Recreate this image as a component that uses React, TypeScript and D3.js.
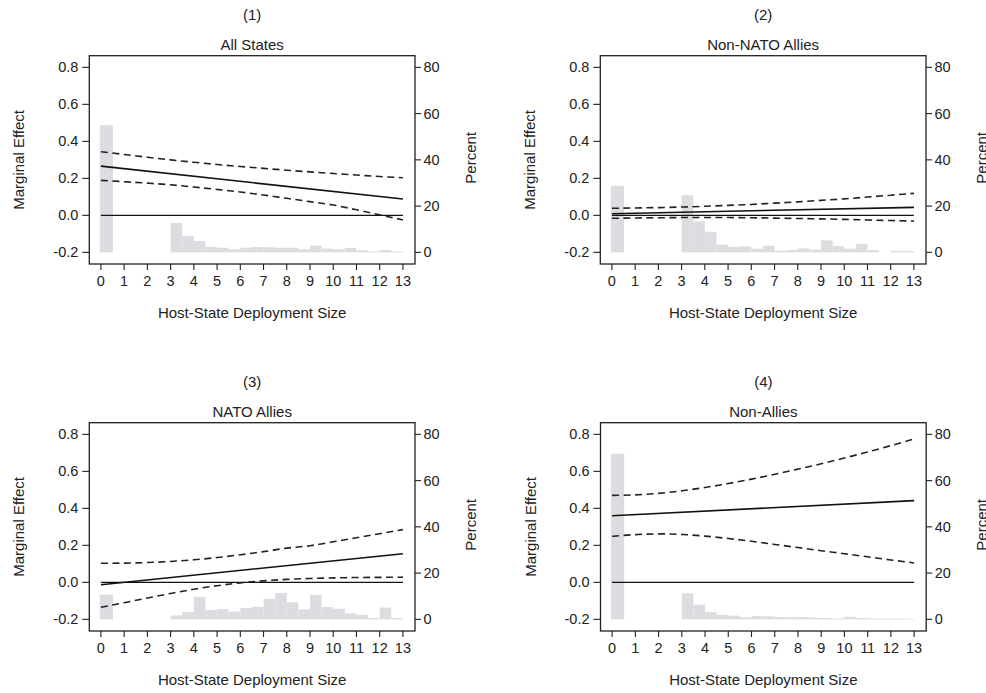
import React from "react";
import * as d3 from "d3";

// ---------- data ----------
const panelNumbers = ["(1)", "(2)", "(3)", "(4)"];
const panelTitles = ["All States", "Non-NATO Allies", "NATO Allies", "Non-Allies"];

const xTicks = [0, 1, 2, 3, 4, 5, 6, 7, 8, 9, 10, 11, 12, 13];
const leftTicks = [-0.2, 0.0, 0.2, 0.4, 0.6, 0.8];
const rightTicks = [0, 20, 40, 60, 80];

// histogram bins (deployment size)
const binStart = [-0.05, 3, 3.5, 4, 4.5, 5, 5.5, 6, 6.5, 7, 7.5, 8, 8.5, 9, 9.5, 10, 10.5, 11, 11.5, 12, 12.5];
const binEnd = [0.52, 3.5, 4, 4.5, 5, 5.5, 6, 6.5, 7, 7.5, 8, 8.5, 9, 9.5, 10, 10.5, 11, 11.5, 12, 12.5, 13];

// histogram percents per panel
const hist1 = [55.0, 12.7, 7.0, 4.9, 2.4, 2.0, 1.3, 2.0, 2.3, 2.2, 2.0, 2.0, 1.3, 2.9, 1.6, 1.3, 1.9, 0.9, 0.4, 1.0, 0.4];
const hist2 = [28.8, 24.7, 13.4, 8.9, 3.3, 2.4, 2.6, 1.6, 2.9, 0.7, 1.0, 1.7, 1.2, 5.2, 2.7, 1.6, 3.7, 1.0, 0, 0.6, 0.6];
const hist3 = [10.7, 1.7, 3.1, 9.7, 4.0, 4.4, 3.4, 4.9, 5.4, 8.9, 11.4, 7.4, 4.3, 10.6, 5.3, 4.6, 2.6, 2.0, 0.6, 5.1, 0.6];
const hist4 = [71.6, 11.3, 6.3, 3.1, 2.0, 1.6, 0.9, 1.4, 1.3, 1.0, 0.9, 1.0, 0.7, 0.6, 0.4, 1.1, 0.6, 0.4, 0.4, 0.4, 0.3];

// marginal effect estimate (straight lines, endpoints at x = 0 and 13)
const estX = [0, 13];
const est1 = [0.266, 0.088];
const est2 = [0.009, 0.043];
const est3 = [-0.013, 0.155];
const est4 = [0.360, 0.442];

// 95% confidence bounds at x = 0..13
const upper1 = [0.344, 0.329, 0.314, 0.300, 0.287, 0.275, 0.264, 0.254, 0.244, 0.235, 0.226, 0.218, 0.210, 0.203];
const lower1 = [0.189, 0.182, 0.174, 0.165, 0.153, 0.140, 0.126, 0.110, 0.092, 0.074, 0.056, 0.030, 0.003, -0.025];
const upper2 = [0.038, 0.040, 0.042, 0.045, 0.049, 0.054, 0.059, 0.066, 0.073, 0.081, 0.089, 0.099, 0.109, 0.119];
const lower2 = [-0.016, -0.014, -0.013, -0.012, -0.012, -0.012, -0.013, -0.015, -0.017, -0.019, -0.022, -0.025, -0.028, -0.031];
const upper3 = [0.103, 0.104, 0.107, 0.113, 0.122, 0.134, 0.149, 0.166, 0.185, 0.198, 0.219, 0.241, 0.263, 0.285];
const lower3 = [-0.135, -0.110, -0.085, -0.060, -0.037, -0.018, -0.003, 0.008, 0.016, 0.021, 0.024, 0.026, 0.027, 0.028];
const upper4 = [0.470, 0.473, 0.481, 0.495, 0.513, 0.534, 0.558, 0.584, 0.612, 0.641, 0.672, 0.705, 0.739, 0.775];
const lower4 = [0.249, 0.258, 0.262, 0.259, 0.250, 0.237, 0.222, 0.205, 0.188, 0.171, 0.155, 0.138, 0.121, 0.105];

const hists = [hist1, hist2, hist3, hist4];
const ests = [est1, est2, est3, est4];
const uppers = [upper1, upper2, upper3, upper4];
const lowers = [lower1, lower2, lower3, lower4];

// ---------- layout ----------
const W = 986;
const H = 693;
const frameW = 325.7;
const frameH = 208.3;
const originsX = [89.3, 600.3, 89.3, 600.5];
const originsY = [55.7, 55.7, 422.7, 422.7];
const FONT = "'Liberation Sans', Arial, Helvetica, sans-serif";
const TXT = "#222";
const BAR = "#dcdde0";

function Panel({ i }: { i: number }) {
  const ox = originsX[i];
  const oy = originsY[i];
  const x = d3.scaleLinear().domain([-0.5, 13.52]).range([0, frameW]);
  const y = d3.scaleLinear().domain([-0.263, 0.863]).range([frameH, 0]);
  const yPct = d3.scaleLinear().domain([0, 80]).range([y(-0.2), y(0.8)]);

  const line = d3
    .line<number>()
    .x((_, k) => x(xTicks[k]))
    .y((d) => y(d))
    .curve(d3.curveMonotoneX);
  const estLine = d3
    .line<number>()
    .x((_, k) => x(estX[k]))
    .y((d) => y(d));

  const hist = hists[i];
  const cx = frameW / 2;
  const cy = frameH / 2;

  return (
    <g transform={`translate(${ox},${oy})`} fontFamily={FONT} fill={TXT}>
      <text x={cx} y={-36} textAnchor="middle" fontSize={15}>
        {panelNumbers[i]}
      </text>
      <text x={cx} y={-6} textAnchor="middle" fontSize={15}>
        {panelTitles[i]}
      </text>

      {/* histogram */}
      {hist.map((v, k) => (
        <rect
          key={k}
          x={x(binStart[k])}
          width={x(binEnd[k]) - x(binStart[k])}
          y={yPct(v)}
          height={yPct(0) - yPct(v)}
          fill={BAR}
          stroke="none"
        />
      ))}

      {/* zero reference line */}
      <line x1={x(0)} x2={x(13)} y1={y(0)} y2={y(0)} stroke="#111" strokeWidth={1.2} />

      {/* CI bounds */}
      <path d={line(uppers[i]) || ""} fill="none" stroke="#222" strokeWidth={1.6} strokeDasharray="7,4.5" />
      <path d={line(lowers[i]) || ""} fill="none" stroke="#222" strokeWidth={1.6} strokeDasharray="7,4.5" />
      {/* estimate */}
      <path d={estLine(ests[i]) || ""} fill="none" stroke="#111" strokeWidth={1.6} />

      {/* frame */}
      <rect x={0} y={0} width={frameW} height={frameH} fill="none" stroke="#222" strokeWidth={1.3} />

      {/* left axis */}
      {leftTicks.map((t) => (
        <g key={"l" + t}>
          <line x1={-7} x2={0} y1={y(t)} y2={y(t)} stroke="#222" strokeWidth={1.1} />
          <text x={-11} y={y(t)} dy="0.35em" textAnchor="end" fontSize={14.5}>
            {t.toFixed(1)}
          </text>
        </g>
      ))}
      {/* right axis */}
      {rightTicks.map((t) => (
        <g key={"r" + t}>
          <line x1={frameW} x2={frameW + 6} y1={yPct(t)} y2={yPct(t)} stroke="#222" strokeWidth={1.1} />
          <text x={frameW + 8.5} y={yPct(t)} dy="0.35em" textAnchor="start" fontSize={14.5}>
            {t}
          </text>
        </g>
      ))}
      {/* bottom axis */}
      {xTicks.map((t) => (
        <g key={"b" + t}>
          <line x1={x(t)} x2={x(t)} y1={frameH} y2={frameH + 6} stroke="#222" strokeWidth={1.1} />
          <text x={x(t)} y={frameH + 22.5} textAnchor="middle" fontSize={14.5}>
            {t}
          </text>
        </g>
      ))}

      <text x={cx} y={frameH + 54} textAnchor="middle" fontSize={15}>
        Host-State Deployment Size
      </text>
      <text
        transform={`translate(${-65},${cy}) rotate(-90)`}
        textAnchor="middle"
        fontSize={15}
      >
        Marginal Effect
      </text>
      <text
        transform={`translate(${frameW + 61},${cy - 2}) rotate(-90)`}
        textAnchor="middle"
        fontSize={15}
      >
        Percent
      </text>
    </g>
  );
}

export default function App() {
  return (
    <svg
      width={W}
      height={H}
      viewBox={`0 0 ${W} ${H}`}
      style={{ position: "absolute", left: 0, top: 0, background: "#fff" }}
    >
      <rect width={W} height={H} fill="#fff" />
      {[0, 1, 2, 3].map((i) => (
        <Panel key={i} i={i} />
      ))}
    </svg>
  );
}
